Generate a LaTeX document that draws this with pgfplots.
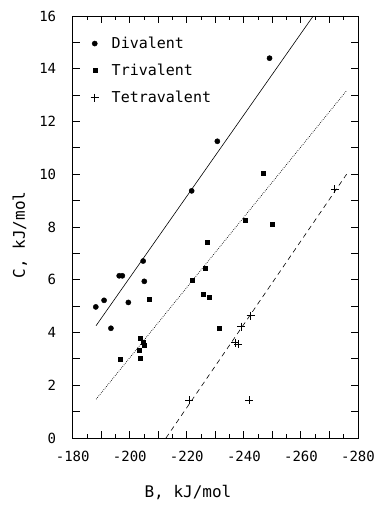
\documentclass[border=0pt]{standalone}
\usepackage{pgfplots}
\pgfplotsset{compat=1.18}
\usepackage{fontspec}
\setmonofont{DejaVu Sans Mono}
\begin{document}
\begin{tikzpicture}
\begin{axis}[
 scale only axis, width=285.3pt, height=422pt,
 x dir=reverse, xmin=-280, xmax=-180, ymin=0, ymax=16,
 xtick={-280,-260,...,-180},
 ytick={0,2,...,16},
 major tick length=0pt, minor tick length=0pt,
 axis line style={line width=0.8pt},
 unbounded coords=jump,
 /pgf/number format/assume math mode=true,
 tick label style={font=\ttfamily\fontsize{14}{14}\selectfont},
 xticklabel shift=10pt,
 yticklabel shift=13pt,
 xlabel={B, kJ/mol}, ylabel={C, kJ/mol},
 label style={font=\ttfamily\fontsize{16}{16}\selectfont},
 xlabel style={at={(axis description cs:0.404,-0.128)}, anchor=center},
 ylabel style={at={(axis description cs:-0.185,0.481)}, anchor=center},
 legend style={draw=none, fill=none, at={(axis description cs:0.052,0.96)}, anchor=north west,
   font=\ttfamily\fontsize{15}{15}\selectfont, row sep=10pt, column sep=11pt},
 legend cell align=left,
]
\addplot[only marks, mark=*, mark size=2.6pt, black] coordinates {
(-249.0,14.40) (-230.7,11.25) (-221.7,9.37) (-204.7,6.71) (-196.3,6.15) (-197.4,6.15)
(-205.1,5.94) (-199.5,5.14) (-191.0,5.22) (-188.1,4.97) (-193.4,4.16)};
\addlegendentry{Divalent}
\addplot[only marks, mark=square*, mark size=2pt, black] coordinates {
(-246.6,10.04) (-240.6,8.27) (-250.0,8.11) (-227.2,7.42) (-226.3,6.42) (-221.8,5.97)
(-225.8,5.46) (-227.8,5.32) (-206.7,5.26) (-231.2,4.16) (-203.7,3.78) (-204.6,3.62)
(-205.2,3.50) (-203.3,3.34) (-203.6,3.03) (-196.6,2.98)};
\addlegendentry{Trivalent}
\addplot[only marks, mark=+, mark size=4pt, black, mark options={line width=0.8pt}] coordinates {
(-271.9,9.43) (-242.4,4.64) (-239.0,4.22) (-237.0,3.62) (-238.0,3.55) (-220.8,1.44) (-241.9,1.44)};
\addlegendentry{Tetravalent}
\addplot[black, line width=0.6pt, forget plot] coordinates {(-188.2,4.26) (-264.3,16)};
\addplot[black, line width=0.7pt, dash pattern=on 0.7pt off 1.3pt, forget plot] coordinates {(-188.2,1.47) (-276.0,13.17)};
\addplot[black, line width=0.6pt, dash pattern=on 5pt off 4pt, forget plot] coordinates {(-212.7,0) (-276.0,10.0)};
% bottom ticks (every 5, taller every 10)
\addplot[black, line width=0.9pt, forget plot] coordinates {
(-185,0) (-185,0.15) (-185,nan) (-190,0) (-190,0.27) (-190,nan)
(-195,0) (-195,0.15) (-195,nan) (-200,0) (-200,0.27) (-200,nan)
(-205,0) (-205,0.15) (-205,nan) (-210,0) (-210,0.27) (-210,nan)
(-215,0) (-215,0.15) (-215,nan) (-220,0) (-220,0.27) (-220,nan)
(-225,0) (-225,0.15) (-225,nan) (-230,0) (-230,0.27) (-230,nan)
(-235,0) (-235,0.15) (-235,nan) (-240,0) (-240,0.27) (-240,nan)
(-245,0) (-245,0.15) (-245,nan) (-250,0) (-250,0.27) (-250,nan)
(-255,0) (-255,0.15) (-255,nan) (-260,0) (-260,0.27) (-260,nan)
(-265,0) (-265,0.15) (-265,nan) (-270,0) (-270,0.27) (-270,nan)
(-275,0) (-275,0.15)};
% top ticks
\addplot[black, line width=0.9pt, forget plot] coordinates {
(-185,16) (-185,15.85) (-185,nan) (-190,16) (-190,15.73) (-190,nan)
(-195,16) (-195,15.85) (-195,nan) (-200,16) (-200,15.73) (-200,nan)
(-205,16) (-205,15.85) (-205,nan) (-210,16) (-210,15.73) (-210,nan)
(-215,16) (-215,15.85) (-215,nan) (-220,16) (-220,15.73) (-220,nan)
(-225,16) (-225,15.85) (-225,nan) (-230,16) (-230,15.73) (-230,nan)
(-235,16) (-235,15.85) (-235,nan) (-240,16) (-240,15.73) (-240,nan)
(-245,16) (-245,15.85) (-245,nan) (-250,16) (-250,15.73) (-250,nan)
(-255,16) (-255,15.85) (-255,nan) (-260,16) (-260,15.73) (-260,nan)
(-265,16) (-265,15.85) (-265,nan) (-270,16) (-270,15.73) (-270,nan)
(-275,16) (-275,15.85)};
% left ticks (every 1)
\addplot[black, line width=0.9pt, forget plot] coordinates {
(-180,1) (-182.4,1) (-180,nan) (-180,2) (-182.4,2) (-180,nan)
(-180,3) (-182.4,3) (-180,nan) (-180,4) (-182.4,4) (-180,nan)
(-180,5) (-182.4,5) (-180,nan) (-180,6) (-182.4,6) (-180,nan)
(-180,7) (-182.4,7) (-180,nan) (-180,8) (-182.4,8) (-180,nan)
(-180,9) (-182.4,9) (-180,nan) (-180,10) (-182.4,10) (-180,nan)
(-180,11) (-182.4,11) (-180,nan) (-180,12) (-182.4,12) (-180,nan)
(-180,13) (-182.4,13) (-180,nan) (-180,14) (-182.4,14) (-180,nan)
(-180,15) (-182.4,15)};
% right ticks (every 1)
\addplot[black, line width=0.9pt, forget plot] coordinates {
(-280,1) (-277.6,1) (-280,nan) (-280,2) (-277.6,2) (-280,nan)
(-280,3) (-277.6,3) (-280,nan) (-280,4) (-277.6,4) (-280,nan)
(-280,5) (-277.6,5) (-280,nan) (-280,6) (-277.6,6) (-280,nan)
(-280,7) (-277.6,7) (-280,nan) (-280,8) (-277.6,8) (-280,nan)
(-280,9) (-277.6,9) (-280,nan) (-280,10) (-277.6,10) (-280,nan)
(-280,11) (-277.6,11) (-280,nan) (-280,12) (-277.6,12) (-280,nan)
(-280,13) (-277.6,13) (-280,nan) (-280,14) (-277.6,14) (-280,nan)
(-280,15) (-277.6,15)};
\end{axis}
\path (-72.7pt,-69pt) rectangle (305.3pt,438pt);
\end{tikzpicture}
\end{document}
